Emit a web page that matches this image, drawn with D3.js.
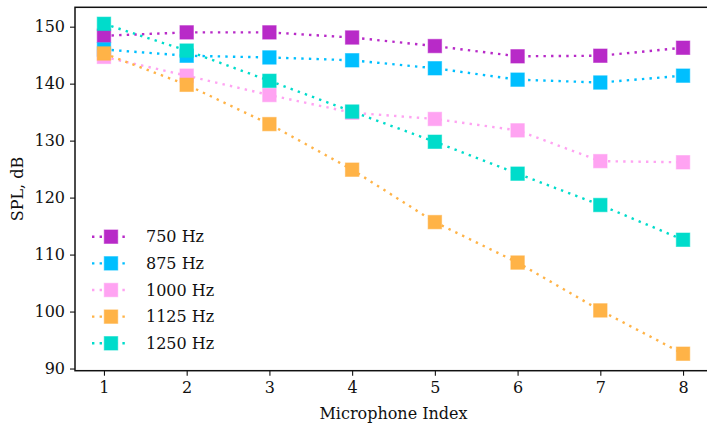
<!DOCTYPE html>
<html><head><meta charset="utf-8">
<script src="https://cdn.jsdelivr.net/npm/d3@7"></script>
<style>body{margin:0;background:#fff}svg{display:block}</style>
</head><body><svg id="c" width="707" height="427"></svg>
<script>
const micIndex = [1,2,3,4,5,6,7,8];
const seriesNames = ["750 Hz","875 Hz","1000 Hz","1125 Hz","1250 Hz"];
const s750  = [148.4,149.0,149.0,148.1,146.6,144.8,144.9,146.3];
const s875  = [146.0,144.9,144.6,144.1,142.7,140.7,140.2,141.4];
const s1000 = [144.7,141.4,138.0,134.9,133.8,131.8,126.4,126.2];
const s1125 = [145.3,139.8,132.9,124.9,115.7,108.6,100.2,92.6];
const s1250 = [150.5,145.8,140.5,135.1,129.8,124.2,118.7,112.6];
const xTicks = [1,2,3,4,5,6,7,8];
const yTicks = [90,100,110,120,130,140,150];
const colors = ["#b82ac8","#00bfff","#ffa3f2","#ffb347","#00dccb"];

const FONT = "'DejaVu Serif', serif";
const FS = 16;
const seriesVals = [s750,s875,s1000,s1125,s1250];
const svg = d3.select("#c");
const L=75, R=712, T=7.3, B=370.7;
const x = d3.scaleLinear().domain([0.65,8.35]).range([L,R]);
const y = d3.scaleLinear().domain([89.62,153.4]).range([B,T]);

const xa = svg.append("g").attr("transform",`translate(0,${B})`)
  .call(d3.axisBottom(x).tickValues(xTicks).tickSize(5).tickPadding(6).tickFormat(d3.format("d")));
const ya = svg.append("g").attr("transform",`translate(${L},0)`)
  .call(d3.axisLeft(y).tickValues(yTicks).tickSize(5).tickPadding(5).tickFormat(d3.format("d")));
[xa,ya].forEach(a=>{
  a.attr("font-family",FONT).attr("font-size",FS);
  a.select(".domain").remove();
  a.selectAll(".tick line").attr("stroke","#111").attr("stroke-width",1.1);
  a.selectAll(".tick text").attr("fill","#111");
});
svg.append("rect").attr("x",L).attr("y",T).attr("width",R-L).attr("height",B-T)
  .attr("fill","none").attr("stroke","#111").attr("stroke-width",1.5);

const line = d3.line().x((d,i)=>x(micIndex[i])).y(d=>y(d));
const ms = 13.5;
seriesVals.forEach((vals,k)=>{
  const g = svg.append("g");
  g.append("path").attr("d",line(vals)).attr("fill","none").attr("stroke",colors[k])
    .attr("stroke-width",2.4).attr("stroke-dasharray","2.4,5.2");
  g.selectAll("rect").data(vals).join("rect")
    .attr("x",(d,i)=>x(micIndex[i])-ms/2).attr("y",d=>y(d)-ms/2)
    .attr("width",ms).attr("height",ms).attr("fill",colors[k])
    .attr("stroke",colors[k]).attr("stroke-opacity",0.55).attr("stroke-width",1);
});

const lg = svg.append("g").attr("font-family",FONT).attr("font-size",FS);
seriesNames.forEach((n,k)=>{
  const yy = 236.7 + k*26.65;
  lg.append("line").attr("x1",92).attr("x2",130).attr("y1",yy).attr("y2",yy)
    .attr("stroke",colors[k]).attr("stroke-width",2.4).attr("stroke-dasharray","2.4,5.2");
  lg.append("rect").attr("x",111-ms/2).attr("y",yy-ms/2).attr("width",ms).attr("height",ms)
    .attr("fill",colors[k]).attr("stroke",colors[k]).attr("stroke-opacity",0.55).attr("stroke-width",1);
  lg.append("text").attr("x",146).attr("y",yy).attr("dy","0.35em").attr("fill","#111").text(n);
});

svg.append("text").attr("x",(L+R)/2).attr("y",419).attr("text-anchor","middle")
  .attr("font-family",FONT).attr("font-size",FS).attr("fill","#111").text("Microphone Index");
svg.append("text").attr("transform",`translate(23,${(T+B)/2}) rotate(-90)`).attr("text-anchor","middle")
  .attr("font-family",FONT).attr("font-size",FS).attr("fill","#111").text("SPL, dB");
</script></body></html>
